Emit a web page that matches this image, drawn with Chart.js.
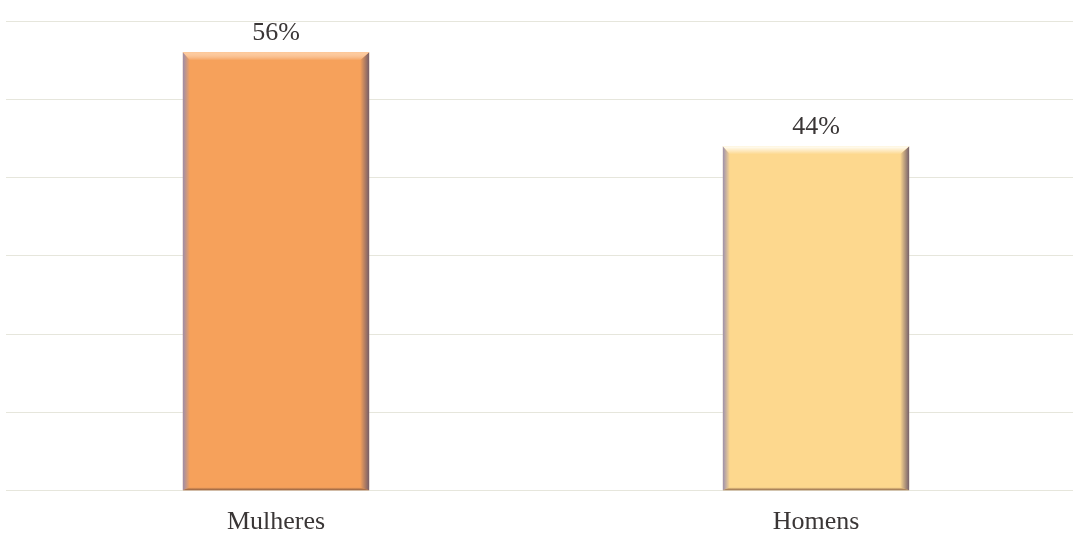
<!DOCTYPE html>
<html>
<head>
<meta charset="utf-8">
<script src="https://cdn.jsdelivr.net/npm/chart.js@4.4.1/dist/chart.umd.min.js"></script>
<style>
  html, body { margin: 0; padding: 0; background: #ffffff; overflow: hidden; width: 1073px; height: 537px; }
  #wrap { position: relative; width: 1092px; height: 554px; }
</style>
</head>
<body>
<div id="wrap"><canvas id="chart"></canvas></div>
<script>
// Share of respondents by sex (percent)
const categories = ['Mulheres', 'Homens'];
const shares = [56, 44];

// Y scale in percent
const yMin = 0;
const yMax = 60;
const yStep = 10;

const barFill = ['#f6a15b', '#fdd88e'];
const barHighlight = ['rgba(255,205,160,0.95)', 'rgba(255,255,248,1)'];

const serif = '"Liberation Serif", "DejaVu Serif", serif';

// Bevelled edges drawn on top of each bar, built from the bar element geometry
const bevelPlugin = {
  id: 'bevel',
  afterDatasetsDraw(chart) {
    const ctx = chart.ctx;
    const meta = chart.getDatasetMeta(0);
    meta.data.forEach((bar, i) => {
      const p = bar.getProps(['x', 'y', 'base', 'width'], true);
      const l = p.x - p.width / 2, r = p.x + p.width / 2;
      const t = p.y, b = p.base;
      const sl = 7, sr = 9, st = 8, sb = 3;
      ctx.save();
      // left edge
      let g = ctx.createLinearGradient(l, 0, l + sl, 0);
      g.addColorStop(0, 'rgba(150,140,175,0.95)');
      g.addColorStop(1, 'rgba(150,140,175,0)');
      ctx.fillStyle = g;
      ctx.beginPath();
      ctx.moveTo(l, t); ctx.lineTo(l + sl, t + st); ctx.lineTo(l + sl, b - sb); ctx.lineTo(l, b);
      ctx.closePath(); ctx.fill();
      // right edge
      g = ctx.createLinearGradient(r - sr, 0, r, 0);
      g.addColorStop(0, 'rgba(110,90,105,0)');
      g.addColorStop(1, 'rgba(110,90,105,0.95)');
      ctx.fillStyle = g;
      ctx.beginPath();
      ctx.moveTo(r, t); ctx.lineTo(r - sr, t + st); ctx.lineTo(r - sr, b - sb); ctx.lineTo(r, b);
      ctx.closePath(); ctx.fill();
      // top highlight
      g = ctx.createLinearGradient(0, t, 0, t + st);
      g.addColorStop(0, barHighlight[i]);
      g.addColorStop(1, 'rgba(255,255,255,0)');
      ctx.fillStyle = g;
      ctx.beginPath();
      ctx.moveTo(l, t); ctx.lineTo(r, t); ctx.lineTo(r - sr, t + st); ctx.lineTo(l + sl, t + st);
      ctx.closePath(); ctx.fill();
      // bottom shade
      g = ctx.createLinearGradient(0, b - sb, 0, b);
      g.addColorStop(0, 'rgba(120,80,60,0)');
      g.addColorStop(1, 'rgba(120,80,60,0.85)');
      ctx.fillStyle = g;
      ctx.beginPath();
      ctx.moveTo(l + sl, b - sb); ctx.lineTo(r - sr, b - sb); ctx.lineTo(r, b); ctx.lineTo(l, b);
      ctx.closePath(); ctx.fill();
      ctx.restore();
    });
  }
};

// Percentage written above each bar
const valueLabelPlugin = {
  id: 'valueLabels',
  afterDatasetsDraw(chart) {
    const ctx = chart.ctx;
    const ds = chart.data.datasets[0];
    chart.getDatasetMeta(0).data.forEach((bar, i) => {
      ctx.save();
      ctx.font = '26px ' + serif;
      ctx.fillStyle = '#3a3636';
      ctx.textAlign = 'center';
      ctx.textBaseline = 'alphabetic';
      ctx.fillText(ds.data[i] + '%', bar.x, bar.y - 12);
      ctx.restore();
    });
  }
};

new Chart(document.getElementById('chart'), {
  type: 'bar',
  data: {
    labels: categories,
    datasets: [{
      data: shares,
      backgroundColor: barFill,
      borderWidth: 0,
      barPercentage: 0.69,
      categoryPercentage: 0.5
    }]
  },
  options: {
    responsive: true,
    maintainAspectRatio: false,
    animation: false,
    layout: { padding: { top: 21, left: 6, right: 6, bottom: 0 } },
    plugins: { legend: { display: false }, tooltip: { enabled: false } },
    scales: {
      x: {
        grid: { display: false, drawTicks: false },
        border: { display: false },
        ticks: {
          color: '#3a3636',
          font: { family: serif, size: 26 },
          padding: 16
        }
      },
      y: {
        min: yMin,
        max: yMax,
        ticks: { stepSize: yStep, display: false },
        grid: { color: 'rgba(220,220,205,0.7)', lineWidth: 1, drawTicks: false },
        border: { display: false }
      }
    }
  },
  plugins: [bevelPlugin, valueLabelPlugin]
});
</script>
</body>
</html>
